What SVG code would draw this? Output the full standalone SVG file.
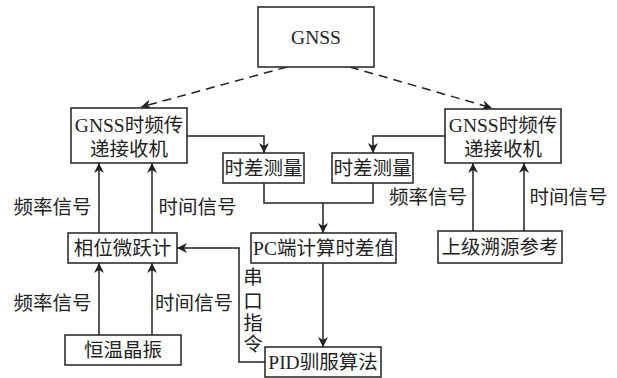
<svg xmlns="http://www.w3.org/2000/svg" width="617" height="378" viewBox="0 0 617 378">
<style>
.box{fill:#fff;stroke:#222;stroke-width:1.5}
.t{font-family:"Liberation Serif","Noto Sans CJK SC",serif;font-size:19.5px;fill:#222;text-anchor:middle;dominant-baseline:central}
.l{stroke:#222;stroke-width:1.5;fill:none}
.d{stroke:#222;stroke-width:1.5;fill:none;stroke-dasharray:9,6}
</style>
<defs>
<marker id="a" viewBox="0 0 10 10" refX="10" refY="5" markerWidth="10" markerHeight="10" markerUnits="userSpaceOnUse" orient="auto">
<path d="M0,0 L10,5 L0,10 L3,5 Z" fill="#222"/>
</marker>
</defs>
<g id="connectors">
<path class="d" d="M287,67 L141,107" marker-end="url(#a)"/>
<path class="d" d="M350,67 L492,108" marker-end="url(#a)"/>
<path class="l" d="M187,136 H264 V153" marker-end="url(#a)"/>
<path class="l" d="M445,136 H373 V153" marker-end="url(#a)"/>
<path class="l" d="M264,183 V203 H373 V183"/>
<path class="l" d="M323,203 V233" marker-end="url(#a)"/>
<path class="l" d="M323,263 V347" marker-end="url(#a)"/>
<path class="l" d="M99,233 V163" marker-end="url(#a)"/>
<path class="l" d="M152,233 V163" marker-end="url(#a)"/>
<path class="l" d="M99,335 V263" marker-end="url(#a)"/>
<path class="l" d="M152,335 V263" marker-end="url(#a)"/>
<path class="l" d="M265,362 H239 V248 H177" marker-end="url(#a)"/>
<path class="l" d="M473,231 V163" marker-end="url(#a)"/>
<path class="l" d="M524,231 V163" marker-end="url(#a)"/>
</g>
<g id="gnss"><rect class="box" x="258" y="7" width="116" height="60"/><text class="t" x="316" y="37">GNSS</text></g>
<g id="rx-left"><rect class="box" x="71" y="108" width="116" height="55"/><text class="t" x="129" y="125">GNSS时频传</text><text class="t" x="129" y="149">递接收机</text></g>
<g id="rx-right"><rect class="box" x="445" y="109" width="116" height="54"/><text class="t" x="503" y="125">GNSS时频传</text><text class="t" x="503" y="149">递接收机</text></g>
<g id="td-left"><rect class="box" x="223" y="153" width="81" height="30"/><text class="t" x="263.5" y="168">时差测量</text></g>
<g id="td-right"><rect class="box" x="332" y="153" width="81" height="30"/><text class="t" x="372.5" y="168">时差测量</text></g>
<g id="pc"><rect class="box" x="251" y="233" width="145" height="30"/><text class="t" x="323.5" y="248">PC端计算时差值</text></g>
<g id="pid"><rect class="box" x="265" y="347" width="116" height="30"/><text class="t" x="323" y="362">PID驯服算法</text></g>
<g id="phase"><rect class="box" x="68" y="233" width="109" height="30"/><text class="t" x="122.5" y="248">相位微跃计</text></g>
<g id="ocxo"><rect class="box" x="65" y="335" width="116" height="30"/><text class="t" x="123" y="350">恒温晶振</text></g>
<g id="ref"><rect class="box" x="438" y="231" width="124" height="32"/><text class="t" x="500" y="247">上级溯源参考</text></g>
<g id="labels">
<text class="t" x="52.5" y="207">频率信号</text>
<text class="t" x="197.5" y="207">时间信号</text>
<text class="t" x="52.5" y="303">频率信号</text>
<text class="t" x="194" y="303">时间信号</text>
<text class="t" x="428" y="197">频率信号</text>
<text class="t" x="568.5" y="197">时间信号</text>
<text class="t" x="253" y="277">串</text>
<text class="t" x="253" y="301">口</text>
<text class="t" x="253" y="323">指</text>
<text class="t" x="253" y="344">令</text>
</g>
</svg>
